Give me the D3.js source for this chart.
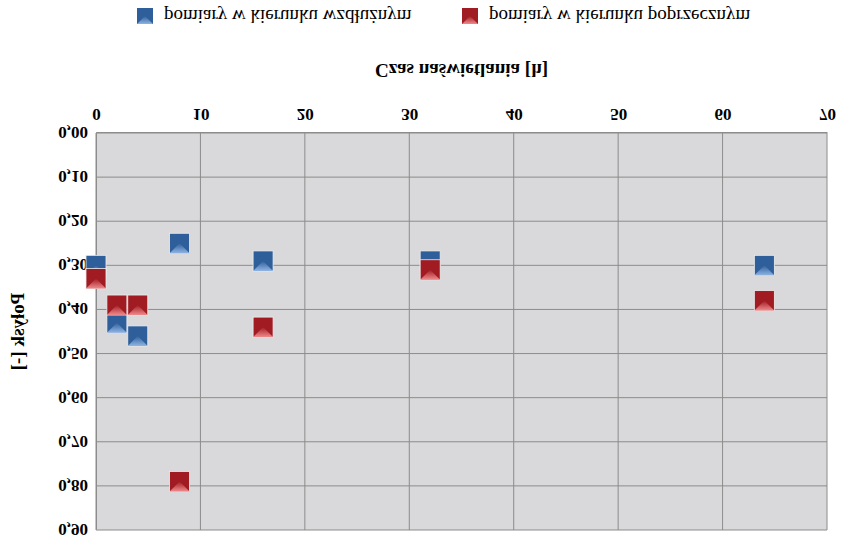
<!DOCTYPE html>
<html><head><meta charset="utf-8">
<script src="https://cdn.jsdelivr.net/npm/d3@7"></script>
<style>body{margin:0;background:#fff}svg{display:block;transform:scaleY(-1)}</style>
</head><body>
<script>
const times = [0, 2, 4, 8, 16, 32, 64];
const seriesNames = ["pomiary w kierunku wzdłużnym", "pomiary w kierunku poprzecznym"];
const wzdluz = [0.30, 0.43, 0.46, 0.25, 0.29, 0.29, 0.30];
const poprzek = [0.33, 0.39, 0.39, 0.79, 0.44, 0.31, 0.38];
const xTicks = [0, 10, 20, 30, 40, 50, 60, 70];
const yTicks = [0, 0.1, 0.2, 0.3, 0.4, 0.5, 0.6, 0.7, 0.8, 0.9];
const colors = [["#2f5f9a","#8fb4e3"], ["#a01c22","#f08a8c"]];

const W = 844, H = 544;
const svg = d3.select("body").append("svg").attr("width", W).attr("height", H);
const m = {l: 96, r: 17, t: 14, b: 133};
const x = d3.scaleLinear().domain([0, 70]).range([m.l, W - m.r]);
const y = d3.scaleLinear().domain([0, 0.9]).range([H - m.b, m.t]);

const defs = svg.append("defs");
colors.forEach((c, i) => {
  const g = defs.append("linearGradient").attr("id", "g" + i).attr("x1", 0).attr("y1", 0).attr("x2", 0).attr("y2", 1);
  g.append("stop").attr("offset", "0%").attr("stop-color", c[1]);
  g.append("stop").attr("offset", "100%").attr("stop-color", c[0]);
});

svg.append("rect").attr("x", m.l).attr("y", m.t).attr("width", W - m.l - m.r).attr("height", H - m.t - m.b).attr("fill", "#d9d9db");
svg.append("g").selectAll("line").data(xTicks).join("line")
  .attr("x1", d => x(d)).attr("x2", d => x(d)).attr("y1", m.t).attr("y2", H - m.b).attr("stroke", "#8c8c8c");
svg.append("g").selectAll("line").data(yTicks).join("line")
  .attr("y1", d => y(d)).attr("y2", d => y(d)).attr("x1", m.l).attr("x2", W - m.r).attr("stroke", "#8c8c8c");

const fmt = d => d3.format(".2f")(d).replace(".", ",");
const xa = svg.append("g").attr("transform", `translate(0,${H - m.b})`).call(d3.axisBottom(x).tickValues(xTicks).tickSize(0).tickPadding(12));
const ya = svg.append("g").attr("transform", `translate(${m.l},0)`).call(d3.axisLeft(y).tickValues(yTicks).tickFormat(fmt).tickSize(0).tickPadding(8));
[xa, ya].forEach(a => { a.select(".domain").attr("stroke", "#8c8c8c");
  a.selectAll("text").attr("font-family", "Liberation Serif").attr("font-weight", "bold").attr("font-size", 17).attr("fill", "#000"); });

function markers(vals, i) {
  const s = 20;
  const g = svg.append("g");
  times.forEach((t, k) => {
    const cx = x(t), cy = y(vals[k]);
    g.append("rect").attr("x", cx - s/2).attr("y", cy - s/2).attr("width", s).attr("height", s).attr("fill", colors[i][0]).attr("stroke", "#eee").attr("stroke-width", 0.8);
    g.append("path").attr("d", `M${cx - s/2},${cy - s/2}L${cx},${cy}L${cx + s/2},${cy - s/2}Z`).attr("fill", `url(#g${i})`);
  });
}
markers(wzdluz, 0);
markers(poprzek, 1);

svg.append("text").attr("x", (m.l + W - m.r) / 2).attr("y", 480).attr("text-anchor", "middle")
  .attr("font-family", "Liberation Serif").attr("font-weight", "bold").attr("font-size", 19).text("Czas naświetlania [h]");
svg.append("text").attr("transform", `translate(24,${(m.t + H - m.b) / 2}) rotate(-90)`).attr("text-anchor", "middle")
  .attr("font-family", "Liberation Serif").attr("font-weight", "bold").attr("font-size", 19).text("Połysk [-]");

const lx = [145, 470];
seriesNames.forEach((n, i) => {
  const cx = lx[i], cy = 528, s = 16;
  svg.append("rect").attr("x", cx - s/2).attr("y", cy - s/2).attr("width", s).attr("height", s).attr("fill", colors[i][0]);
  svg.append("path").attr("d", `M${cx - s/2},${cy - s/2}L${cx},${cy}L${cx + s/2},${cy - s/2}Z`).attr("fill", `url(#g${i})`);
  svg.append("text").attr("x", cx + 19).attr("y", cy + 6).attr("font-family", "Liberation Serif").attr("font-size", 19).text(n);
});
</script>
</body></html>
